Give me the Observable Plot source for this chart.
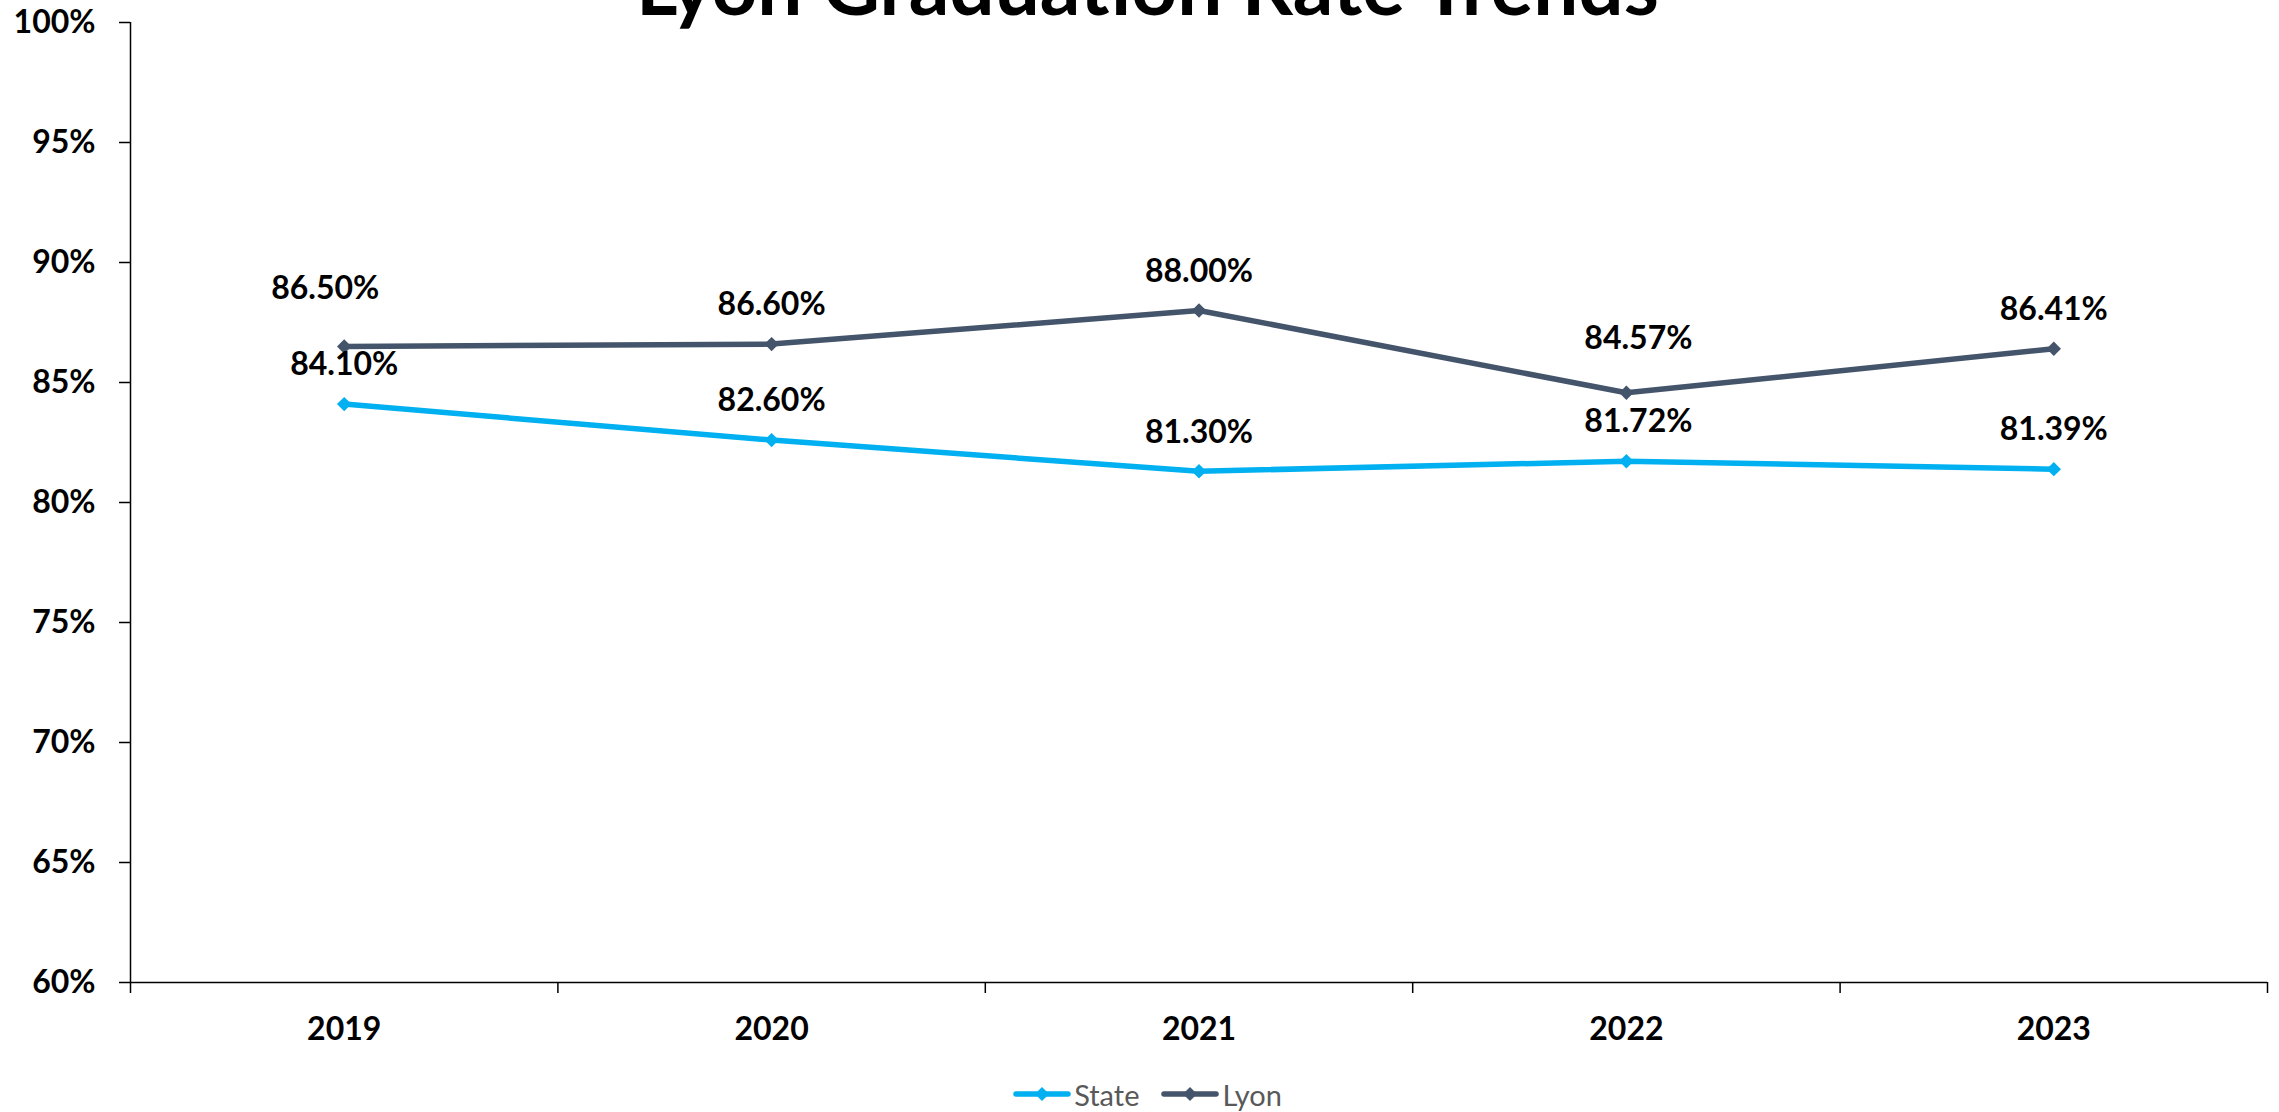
<!DOCTYPE html>
<html>
<head>
<meta charset="utf-8">
<script src="https://cdn.jsdelivr.net/npm/d3@7"></script>
<script src="https://cdn.jsdelivr.net/npm/@observablehq/plot@0.6"></script>
<style>
  html, body { margin: 0; padding: 0; background: #fff; }
  #wrap { position: relative; width: 2279px; height: 1112px; overflow: hidden; font-family: Lato, "Open Sans", sans-serif; }
  #title { position: absolute; left: 8px; width: 2279px; top: -56px; text-align: center; font-weight: 700; font-size: 80px; line-height: 80px; color: #000; white-space: nowrap; }
  #chart { position: absolute; left: 0; top: 0; }
  #legend { position: absolute; left: 8px; top: 1074px; width: 2279px; height: 40px; display: flex; justify-content: center; align-items: center; font-size: 29px; color: #595959; }
  .item { display: flex; align-items: center; margin: 0 11px; }
  .item svg { margin-right: 3px; }
</style>
</head>
<body>
<div id="wrap">
  <div id="chart"></div>
  <div id="title">Lyon Graduation Rate Trends</div>
  <div id="legend"></div>
</div>
<script>
// ---- data ----
const years = [2019, 2020, 2021, 2022, 2023];
const seriesNames = ["State", "Lyon"];
const stateValues = [84.10, 82.60, 81.30, 81.72, 81.39];
const lyonValues = [86.50, 86.60, 88.00, 84.57, 86.41];
const yTicks = [60, 65, 70, 75, 80, 85, 90, 95, 100];
const seriesColors = ["#00B0F0", "#44546A"];

const data = [
  ...years.map((year, i) => ({series: "State", year, value: stateValues[i]})),
  ...years.map((year, i) => ({series: "Lyon", year, value: lyonValues[i]}))
];

// label placement tweaks (style only)
const nudges = [
  {series: "Lyon", year: 2019, dx: -19, dy: -58},
  {series: "Lyon", year: 2022, dx: 12, dy: -54},
  {series: "State", year: 2022, dx: 12, dy: -39}
];
const isNudged = d => nudges.some(n => n.series === d.series && n.year === d.year);

const boundaries = [years[0] - 0.5, ...years.map(y => y + 0.5)];
const fmt = d => d.value.toFixed(2) + "%";
const labelStyle = {fontSize: 32, fontWeight: 700, fill: "#000", fontFamily: "Lato"};

const marks = [
  Plot.axisY({ticks: yTicks, tickFormat: d => d + "%", tickSize: 11, tickPadding: 24, label: null, ...labelStyle, strokeWidth: 1.5}),
  Plot.axisX({ticks: years, tickFormat: d => String(d), tickSize: 0, tickPadding: 35, label: null, ...labelStyle}),
  Plot.axisX({ticks: boundaries, tickFormat: () => "", tickSize: 11, label: null, strokeWidth: 1.5}),
  Plot.ruleY([60], {stroke: "#000", strokeWidth: 1.5}),
  Plot.ruleX([boundaries[0]], {stroke: "#000", strokeWidth: 1.5}),
  Plot.line(data, {x: "year", y: "value", stroke: "series", strokeWidth: 5.5, z: "series"}),
  Plot.dot(data, {x: "year", y: "value", fill: "series", symbol: "diamond2", r: 6.5, stroke: null}),
  Plot.text(data.filter(d => !isNudged(d)), {x: "year", y: "value", text: fmt, dy: -39, ...labelStyle}),
  ...nudges.map(n => Plot.text(data.filter(d => d.series === n.series && d.year === n.year),
    {x: "year", y: "value", text: fmt, dx: n.dx, dy: n.dy, ...labelStyle}))
];

const chart = Plot.plot({
  width: 2279,
  height: 1060,
  marginLeft: 130,
  marginRight: 12,
  marginTop: 22,
  marginBottom: 78,
  style: {fontFamily: "Lato", background: "#fff", color: "#000"},
  x: {type: "linear", domain: [boundaries[0], boundaries[boundaries.length - 1]], axis: null},
  y: {domain: [60, 100], axis: null},
  color: {domain: seriesNames, range: seriesColors},
  marks
});
document.getElementById("chart").appendChild(chart);

// legend
const legend = document.getElementById("legend");
seriesNames.forEach((name, i) => {
  const item = document.createElement("div");
  item.className = "item";
  const c = seriesColors[i];
  item.innerHTML = `<svg width="58" height="20" viewBox="0 0 58 20"><line x1="3" y1="10" x2="55" y2="10" stroke="${c}" stroke-width="5.5" stroke-linecap="round"/><path d="M29,3L36,10L29,17L22,10Z" fill="${c}"/></svg><span>${name}</span>`;
  legend.appendChild(item);
});
</script>
</body>
</html>
